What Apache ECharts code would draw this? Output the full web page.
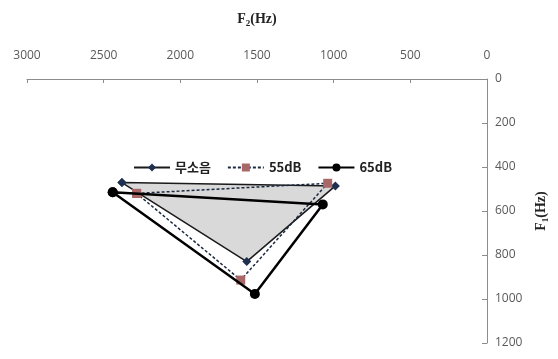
<!DOCTYPE html>
<html><head><meta charset="utf-8">
<script src="https://cdn.jsdelivr.net/npm/echarts@6/dist/echarts.min.js"></script>
<style>html,body{margin:0;padding:0;background:#fff}#c{width:558px;height:359px}</style>
</head><body><div id="c"></div>
<script>
const seriesNames = ['무소음', '55dB', '65dB'];
// [F2, F1] vertices per condition
const quietF2 = [2381, 989, 1567];
const quietF1 = [471, 486, 830];
const db55F2 = [2285, 1039, 1606];
const db55F1 = [520, 474, 914];
const db65F2 = [2441, 1071, 1514];
const db65F1 = [515, 570, 977];

function closed(f2, f1) {
  const pts = f2.map((v, i) => [v, f1[i]]);
  pts.push(pts[0]);
  return pts;
}
const chart = echarts.init(document.getElementById('c'));
const labelColor = '#595959';
const plain = v => String(v);
chart.setOption({
  animation: false,
  grid: { left: 27, right: 66, top: 79, bottom: 16 },
  legend: {
    data: seriesNames,
    top: 156, left: 128,
    itemWidth: 36, itemHeight: 10, itemGap: 16,
    textStyle: { fontFamily: 'Noto Sans CJK KR', fontWeight: 'bold', fontSize: 13, color: '#222' }
  },
  xAxis: {
    type: 'value', position: 'top', inverse: true,
    min: 0, max: 3000, interval: 500,
    name: '{n|F}{s|2}{n|(Hz)}', nameLocation: 'middle', nameGap: 51,
    nameTextStyle: { rich: {
      n: { fontFamily: 'Liberation Serif', fontWeight: 'bold', fontSize: 14, color: '#222' },
      s: { fontFamily: 'Liberation Serif', fontWeight: 'bold', fontSize: 9, color: '#222', padding: [8, 0, 0, 0] }
    } },
    axisLine: { show: true, lineStyle: { color: '#8c8c8c' } },
    axisTick: { show: true, inside: true, length: 4, lineStyle: { color: '#8c8c8c' } },
    axisLabel: { color: labelColor, fontSize: 12, fontFamily: 'Open Sans', margin: 17, formatter: plain },
    splitLine: { show: false }
  },
  yAxis: {
    type: 'value', position: 'right', inverse: true,
    min: 0, max: 1200, interval: 200,
    name: '{n|F}{s|1}{n|(Hz)}', nameLocation: 'middle', nameGap: 46, nameRotate: 90,
    nameTextStyle: { rich: {
      n: { fontFamily: 'Liberation Serif', fontWeight: 'bold', fontSize: 14, color: '#222' },
      s: { fontFamily: 'Liberation Serif', fontWeight: 'bold', fontSize: 9, color: '#222', padding: [8, 0, 0, 0] }
    } },
    axisLine: { show: true, lineStyle: { color: '#8c8c8c' } },
    axisTick: { show: true, inside: true, length: 5, lineStyle: { color: '#8c8c8c' } },
    axisLabel: { color: labelColor, fontSize: 12, fontFamily: 'Open Sans', margin: 8, formatter: plain },
    splitLine: { show: false }
  },
  series: [
    {
      type: 'custom', name: 'fill', silent: true, z: 1,
      data: [[quietF2[0], quietF1[0]]],
      renderItem: function (params, api) {
        const pts = quietF2.map((v, i) => api.coord([v, quietF1[i]]));
        return { type: 'polygon', shape: { points: pts }, style: { fill: '#d9d9d9' } };
      }
    },
    {
      name: seriesNames[0], type: 'line', z: 3,
      data: closed(quietF2, quietF1),
      symbol: 'diamond', symbolSize: 9,
      lineStyle: { color: '#1a1a1a', width: 1.5 },
      itemStyle: { color: '#1f2f4f' }
    },
    {
      name: seriesNames[1], type: 'line', z: 4,
      data: closed(db55F2, db55F1),
      symbol: 'rect', symbolSize: 9,
      lineStyle: { color: '#1c2a40', width: 1.5, type: [3, 2] },
      itemStyle: { color: '#a86868' }
    },
    {
      name: seriesNames[2], type: 'line', z: 5,
      data: closed(db65F2, db65F1),
      symbol: 'circle', symbolSize: 10,
      lineStyle: { color: '#000', width: 2.5 },
      itemStyle: { color: '#000' }
    }
  ]
});
</script></body></html>
